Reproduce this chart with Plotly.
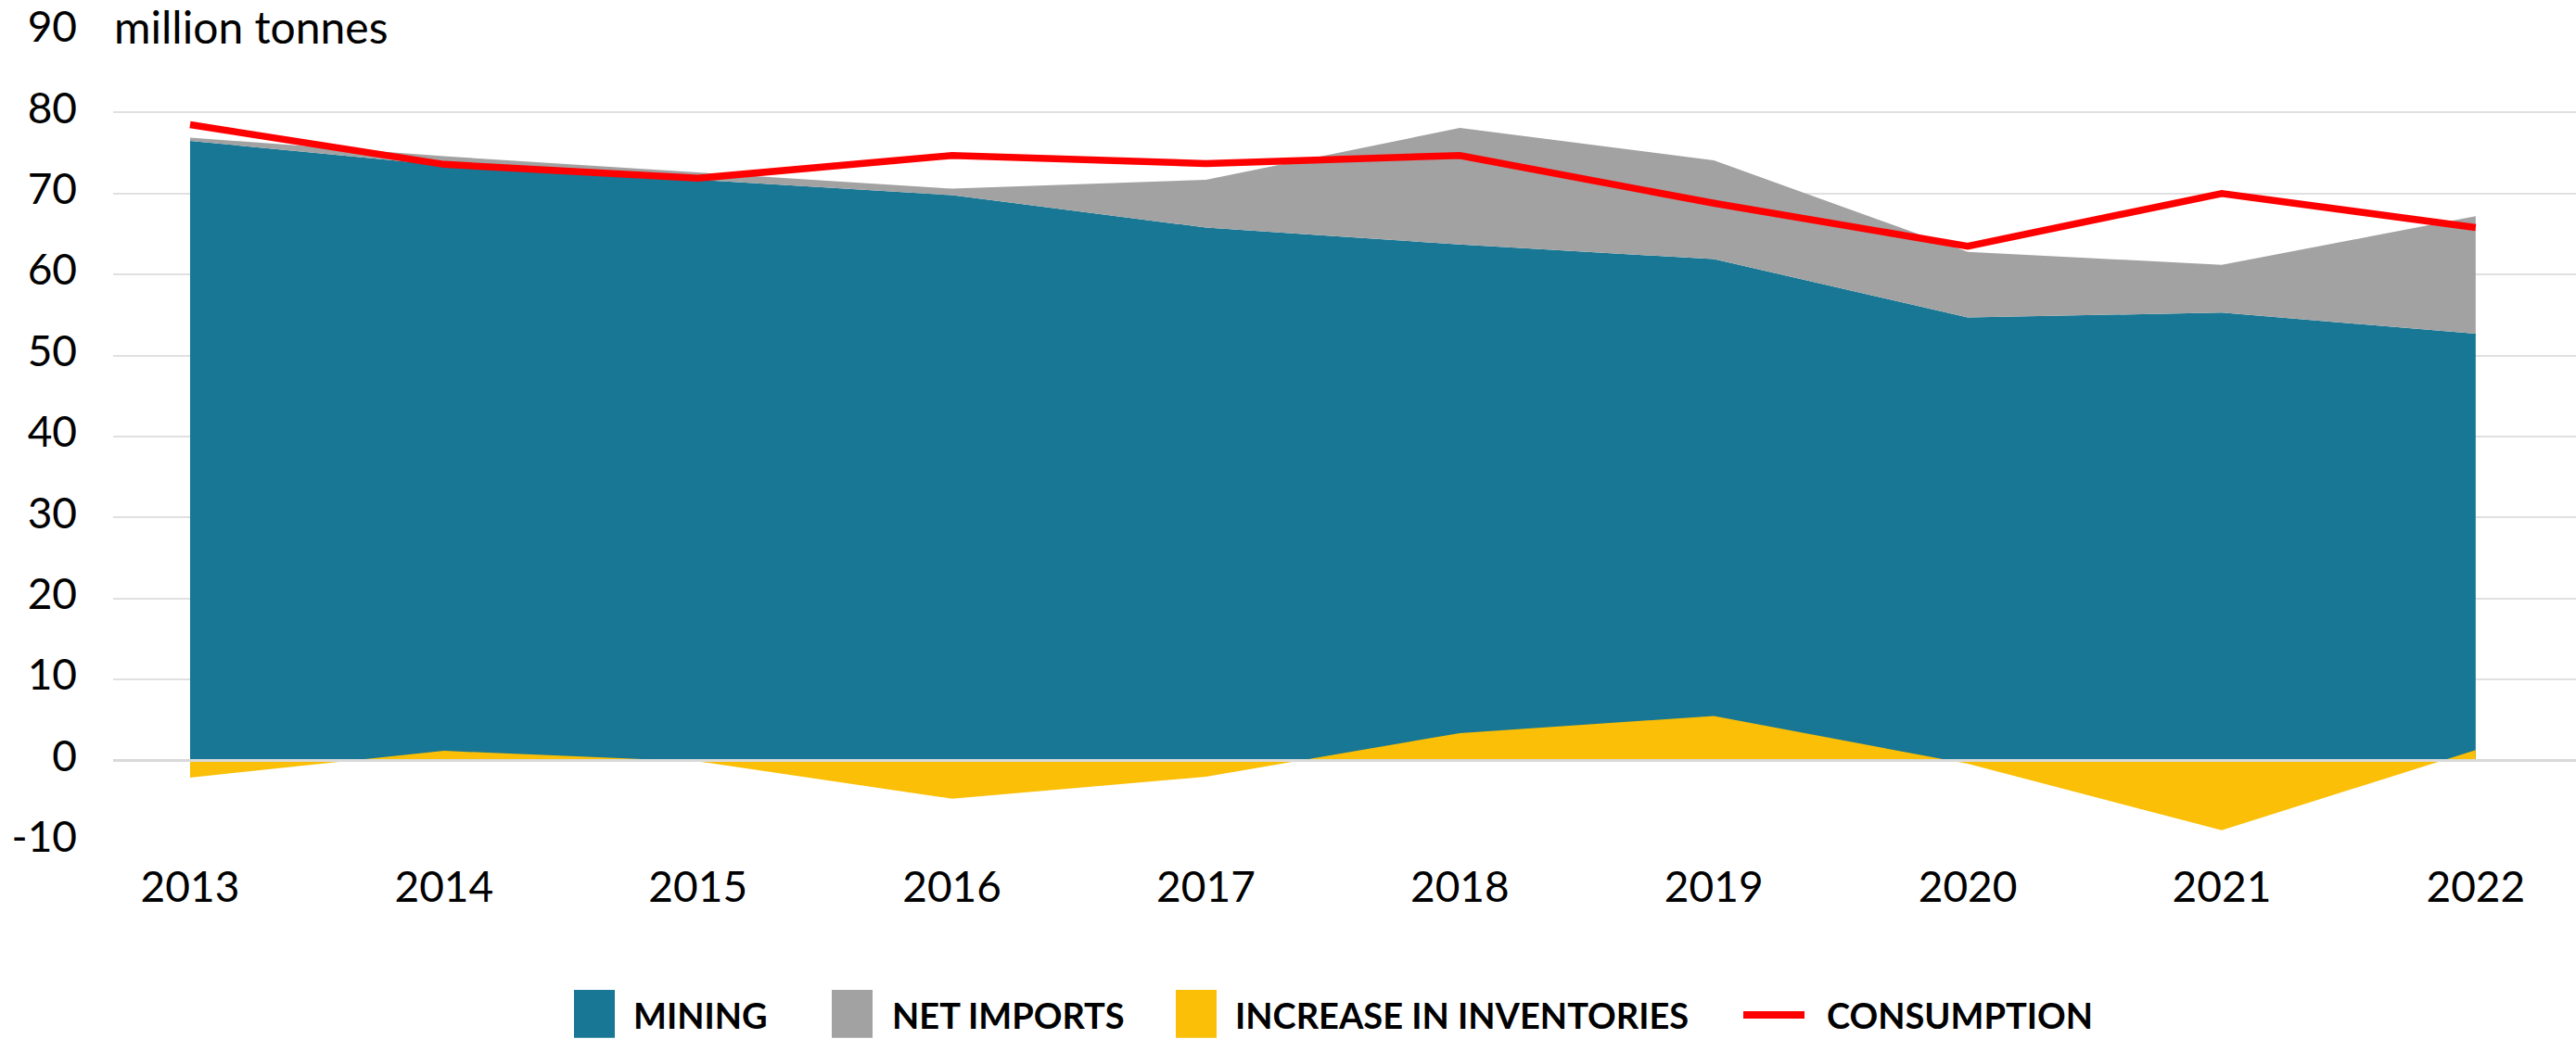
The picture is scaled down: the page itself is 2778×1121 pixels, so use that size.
import plotly.graph_objects as go

years = [2013, 2014, 2015, 2016, 2017, 2018, 2019, 2020, 2021, 2022]
mining = [76.5, 73.5, 71.7, 69.8, 65.8, 63.7, 61.9, 54.7, 55.3, 52.7]
net_imports = [0.4, 1.1, 0.9, 0.8, 5.9, 14.4, 12.2, 8.1, 5.9, 14.5]
inventories = [-2.1, 1.2, -0.1, -4.7, -2.0, 3.4, 5.5, -0.4, -8.6, 1.3]
consumption = [78.5, 73.6, 71.9, 74.7, 73.7, 74.7, 68.8, 63.5, 70.0, 65.8]
y_ticks = [-10, 0, 10, 20, 30, 40, 50, 60, 70, 80, 90]
y_tick_labels = ["-10", "0", "10", "20", "30", "40", "50", "60", "70", "80", "90"]

TEAL = "#177794"
GRAY = "#a2a2a2"
YELLOW = "#fabf06"
RED = "#ff0000"
FONT = "Lato"

W, H = 2778, 1121
ML, MR, MT, MB = 122, 0, 29, 213
PW = W - ML - MR
PH = H - MT - MB


def px_x(px):
    return (px - ML) / PW


def px_y(py):
    return (H - MB - py) / PH


fig = go.Figure()
fig.add_trace(go.Scatter(x=years, y=mining, name="MINING", mode="none",
                         stackgroup="supply", fillcolor=TEAL, showlegend=False))
fig.add_trace(go.Scatter(x=years, y=net_imports, name="NET IMPORTS", mode="none",
                         stackgroup="supply", fillcolor=GRAY, showlegend=False))
fig.add_trace(go.Scatter(x=years, y=inventories, name="INCREASE IN INVENTORIES",
                         mode="none", fill="tozeroy", fillcolor=YELLOW, showlegend=False))
fig.add_trace(go.Scatter(x=years, y=consumption, name="CONSUMPTION", mode="lines",
                         line=dict(color=RED, width=7.5), showlegend=False))

# zero line above areas
fig.add_shape(type="line", xref="paper", x0=0, x1=1, yref="y", y0=0, y1=0,
              line=dict(color="#d9d9d9", width=3), layer="above")

# white patch hiding the 90 gridline behind the unit label
fig.add_shape(type="rect", xref="paper", x0=0, x1=px_x(439), yref="y", y0=88, y1=92,
              fillcolor="white", line=dict(width=0), layer="above")
fig.add_annotation(xref="paper", x=0, yref="y", y=90, xanchor="left", yanchor="middle",
                   text="million tonnes", showarrow=False, borderpad=0, yshift=6,
                   font=dict(family=FONT, size=48, color="black"))

# legend (drawn manually to match the large square swatches)
legend_items = [
    ("box", TEAL, 619, 663, "MINING", 682),
    ("box", GRAY, 897, 941, "NET IMPORTS", 961),
    ("box", YELLOW, 1268, 1312, "INCREASE IN INVENTORIES", 1331),
    ("line", RED, 1880, 1946, "CONSUMPTION", 1969),
]
LEG_Y = 1096
for kind, color, x0, x1, label, tx in legend_items:
    if kind == "box":
        fig.add_shape(type="rect", xref="paper", yref="paper",
                      x0=px_x(x0), x1=px_x(x1), y0=px_y(1069), y1=px_y(1121),
                      fillcolor=color, line=dict(width=0))
    else:
        fig.add_shape(type="line", xref="paper", yref="paper",
                      x0=px_x(x0), x1=px_x(x1), y0=px_y(LEG_Y), y1=px_y(LEG_Y),
                      line=dict(color=color, width=8))
    fig.add_annotation(xref="paper", yref="paper", x=px_x(tx), y=px_y(LEG_Y),
                       xanchor="left", yanchor="middle", text=label, showarrow=False,
                       borderpad=0,
                       font=dict(family=FONT, size=38, color="black", weight="bold"))

fig.update_layout(
    width=W, height=H,
    margin=dict(l=ML, r=MR, t=MT, b=MB),
    paper_bgcolor="white", plot_bgcolor="white",
    font=dict(family=FONT, size=46, color="black"),
    showlegend=False,
    xaxis=dict(range=[2012.697, 2022.395], tickvals=years, ticktext=[str(y) for y in years],
               showgrid=False, zeroline=False, showline=False, ticks="",
               tickfont=dict(family=FONT, size=46, color="black"), ticklabelstandoff=18),
    yaxis=dict(range=[-10, 90], tickvals=y_ticks, ticktext=y_tick_labels,
               showgrid=True, gridcolor="#e0e0e0",
               gridwidth=1.5, zeroline=False, showline=False, ticks="",
               tickfont=dict(family=FONT, size=46, color="black"), ticklabelstandoff=38,
               ticklabelshift=-5, ticklabeloverflow="allow"),
)

fig.write_html("out.html", config={"displayModeBar": False},
               post_script="document.body.style.margin='0';document.body.style.overflow='hidden';")
